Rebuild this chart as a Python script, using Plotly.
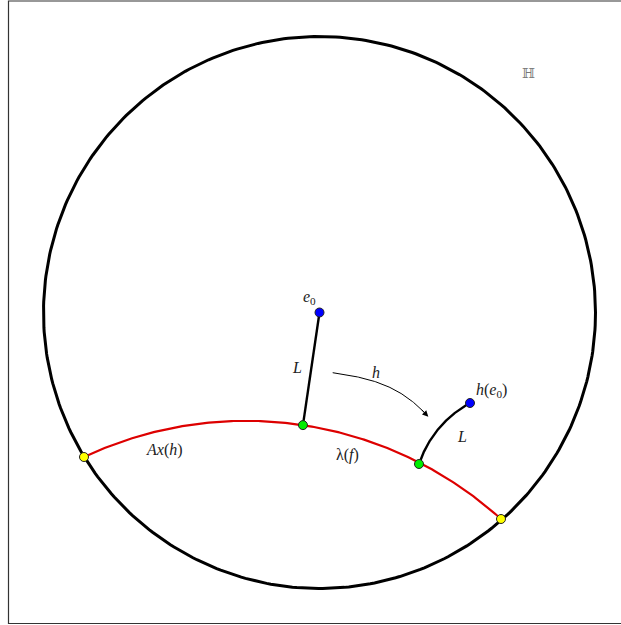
import numpy as np
import plotly.graph_objects as go

# ---- diagram data (Poincaré-disk style coordinates, unit disk) ----
disk_center = (0.0, 0.0)
disk_radius = 1.0

point_names = ["e0", "foot", "image_foot", "h_e0", "ideal_left", "ideal_right"]
point_x = [0.0, -0.060, 0.3605, 0.5453, -0.8533, 0.6576]
point_y = [0.0, -0.408, -0.5489, -0.3279, -0.5236, -0.7482]
point_colors = ["#0000ff", "#00ee00", "#00ee00", "#0000ff", "#ffff00", "#ffff00"]

# axis arc: through ideal_left, foot, ideal_right
axis_arc_pts = ["ideal_left", "foot", "ideal_right"]
# image of segment L: through image_foot, a middle point, h_e0
image_arc_mid = (0.4728, -0.3786)

# arrow h (cubic curve: start, control1, control2, end)
arrow_x = [0.0478, 0.1830, 0.2917, 0.3942]
arrow_y = [-0.2181, -0.2373, -0.2627, -0.3775]

label_texts = ["<i>e</i><sub>0</sub>", "<i>L</i>", "<i>h</i>", "<i>h</i>(<i>e</i><sub>0</sub>)",
               "<i>L</i>", "<i>Ax</i>(<i>h</i>)", "λ(<i>f</i>)", "ℍ"]
label_x = [-0.036, -0.082, 0.205, 0.623, 0.516, -0.562, 0.100, 0.759]
label_y = [0.056, -0.201, -0.216, -0.284, -0.451, -0.498, -0.516, 0.868]

P = {n: (x, y) for n, x, y in zip(point_names, point_x, point_y)}


def circle_through(p1, p2, p3):
    (x1, y1), (x2, y2), (x3, y3) = p1, p2, p3
    a = np.array([[x1 - x2, y1 - y2], [x2 - x3, y2 - y3]]) * 2
    b = np.array([x1**2 - x2**2 + y1**2 - y2**2, x2**2 - x3**2 + y2**2 - y3**2])
    cx, cy = np.linalg.solve(a, b)
    return cx, cy, np.hypot(x1 - cx, y1 - cy)


def arc_through(p1, p2, p3, n=200):
    cx, cy, r = circle_through(p1, p2, p3)
    a1 = np.arctan2(p1[1] - cy, p1[0] - cx)
    a2 = np.arctan2(p2[1] - cy, p2[0] - cx)
    a3 = np.arctan2(p3[1] - cy, p3[0] - cx)

    def norm(a):
        return a % (2 * np.pi)
    d13 = norm(a3 - a1)
    d12 = norm(a2 - a1)
    if d12 <= d13:
        t = np.linspace(a1, a1 + d13, n)
    else:
        t = np.linspace(a1, a1 - (2 * np.pi - d13), n)
    return cx + r * np.cos(t), cy + r * np.sin(t)


fig = go.Figure()

# boundary circle
t = np.linspace(0, 2 * np.pi, 400)
fig.add_trace(go.Scatter(x=disk_center[0] + disk_radius * np.cos(t),
                         y=disk_center[1] + disk_radius * np.sin(t),
                         mode="lines", line=dict(color="black", width=3),
                         hoverinfo="skip"))

# axis arc (red)
ax_x, ax_y = arc_through(*[P[n] for n in axis_arc_pts])
fig.add_trace(go.Scatter(x=ax_x, y=ax_y, mode="lines",
                         line=dict(color="#dd0000", width=2.2), hoverinfo="skip"))

# segment L from e0 to foot
fig.add_trace(go.Scatter(x=[P["e0"][0], P["foot"][0]], y=[P["e0"][1], P["foot"][1]],
                         mode="lines", line=dict(color="black", width=2.4), hoverinfo="skip"))

# image arc h(L)
im_x, im_y = arc_through(P["image_foot"], image_arc_mid, P["h_e0"])
fig.add_trace(go.Scatter(x=im_x, y=im_y, mode="lines",
                         line=dict(color="black", width=2.4), hoverinfo="skip"))

# arrow h curve (cubic)
s = np.linspace(0, 1, 100)
bx = ((1 - s)**3 * arrow_x[0] + 3 * (1 - s)**2 * s * arrow_x[1]
      + 3 * (1 - s) * s**2 * arrow_x[2] + s**3 * arrow_x[3])
by = ((1 - s)**3 * arrow_y[0] + 3 * (1 - s)**2 * s * arrow_y[1]
      + 3 * (1 - s) * s**2 * arrow_y[2] + s**3 * arrow_y[3])
fig.add_trace(go.Scatter(x=bx[:-4], y=by[:-4], mode="lines",
                         line=dict(color="black", width=1), hoverinfo="skip"))
fig.add_annotation(x=bx[-1], y=by[-1], ax=bx[-10], ay=by[-10], axref="x", ayref="y",
                   xref="x", yref="y", text="", showarrow=True, arrowhead=2,
                   arrowsize=1.2, arrowwidth=1, arrowcolor="black")

# points
fig.add_trace(go.Scatter(x=point_x, y=point_y, mode="markers",
                         marker=dict(size=9, color=point_colors,
                                     line=dict(color="#222", width=1)),
                         hoverinfo="skip"))

# labels
for txt, lx, ly in zip(label_texts, label_x, label_y):
    is_H = txt == "ℍ"
    fig.add_annotation(x=lx, y=ly, xref="x", yref="y", text=txt, showarrow=False,
                       font=dict(family="DejaVu Serif" if is_H else "Liberation Serif",
                                 size=14 if is_H else 16,
                                 color="#777" if is_H else "#222"))

W, H = 621, 625
cxp, cyp, scale = 319.5, 312.5, 276.0
fig.update_layout(
    width=W, height=H, margin=dict(l=0, r=0, t=0, b=0),
    paper_bgcolor="white", plot_bgcolor="white", showlegend=False,
    xaxis=dict(range=[-cxp / scale, (W - cxp) / scale], visible=False, showgrid=False,
               zeroline=False, fixedrange=True),
    yaxis=dict(range=[-(H - cyp) / scale, cyp / scale], visible=False, showgrid=False,
               zeroline=False, fixedrange=True),
    shapes=[dict(type="rect", xref="paper", yref="paper",
                 x0=8.5 / W, x1=1.05, y0=1 - 623.5 / H, y1=1 - 1.0 / H,
                 line=dict(color="#333", width=1.2), fillcolor="rgba(0,0,0,0)", layer="below")],
)

fig.write_html("out.html", config={"displayModeBar": False},
               post_script="document.body.style.margin='0';")
